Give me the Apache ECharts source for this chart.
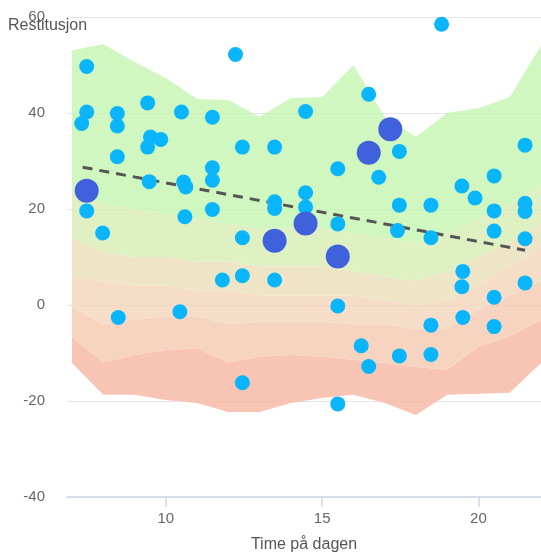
<!DOCTYPE html>
<html>
<head>
    <meta charset="utf-8">
    <title>Restitusjon</title>
    <script src="https://cdn.jsdelivr.net/npm/echarts@6/dist/echarts.min.js"></script>
    <style>
        html, body { margin: 0; padding: 0; background: #fff; }
        #chart { width: 541px; height: 553px; }
    </style>
</head>
<body>
    <div id="chart"></div>
    <script>
        // band boundaries per hour (bottom -> top)
        var hours = [7, 8, 9, 10, 11, 12, 13, 14, 15, 16, 17, 18, 19, 20, 21, 22];
        var bandBottom = [-12.1, -18.7, -18.7, -19.8, -20.4, -22.3, -22.3, -20.4, -19.4, -18.7, -20.4, -22.9, -18.7, -18.5, -18.3, -12.1];
        var bandRed = [-6.7, -12, -10.4, -9.4, -9, -12, -10.8, -10.4, -10.8, -11.4, -12.1, -12.9, -13.5, -8.7, -6.5, -3.1];
        var bandPeach = [-0.5, -4, -3, -2.5, -2.5, -4, -3.5, -3.5, -3.5, -4, -4, -5, -5, -1, 2, 5];
        var bandTan = [6, 5, 4, 4, 3, 3, 2, 2, 2, 2, 1, 0, 1, 4, 8, 12];
        var bandYellow = [14, 11, 10, 10, 9, 9, 8, 8, 8, 7, 6, 5, 7, 10, 13, 17];
        var bandPale = [24, 21, 20, 19, 18, 17, 16, 16, 16, 15, 14, 13, 15, 18, 21, 25];
        var bandTop = [53, 54.4, 50.6, 47.3, 42.9, 42.7, 39.2, 43.1, 43.3, 50, 39.2, 35, 40, 41, 43.3, 54];

        var points = [
            [7.47, 49.7], [7.47, 40.2], [7.31, 37.8], [8.45, 39.9], [8.45, 37.3],
            [9.42, 42.1], [10.5, 40.2], [9.51, 35.0], [9.84, 34.5], [9.42, 32.9],
            [8.45, 30.9], [9.47, 25.7], [10.57, 25.6], [10.64, 24.6], [7.47, 19.6],
            [10.61, 18.4], [7.98, 15.0], [11.49, 39.1], [11.49, 28.6], [11.49, 26.0],
            [11.49, 19.9], [12.23, 52.2], [12.45, 32.9], [12.45, 14.0], [11.81, 5.2],
            [12.45, 6.1], [13.48, 32.9], [13.48, 21.5], [13.48, 20.1], [13.48, 5.2],
            [12.45, -16.2], [8.48, -2.6], [10.45, -1.4], [14.47, 40.3], [14.47, 23.4],
            [14.47, 20.4], [15.5, 28.4], [15.5, 16.9], [15.5, -0.2], [15.5, -20.6],
            [16.49, 43.9], [17.47, 32.0], [16.81, 26.6], [17.47, 20.8], [17.41, 15.5],
            [16.25, -8.5], [16.49, -12.8], [17.47, -10.6], [18.48, 20.8], [18.48, 14.0],
            [18.48, -4.2], [18.48, -10.3], [18.82, 58.5], [19.47, 24.8], [19.89, 22.3],
            [20.5, 26.9], [20.5, 19.6], [20.5, 15.4], [19.5, 7.0], [19.47, 3.8],
            [19.5, -2.6], [20.5, 1.6], [20.5, -4.5], [21.49, 33.3], [21.49, 21.2],
            [21.49, 19.5], [21.49, 13.8], [21.49, 4.6]
        ];
        var bigPoints = [
            [7.47, 23.8], [13.48, 13.4], [14.47, 17.0], [15.5, 10.1], [16.49, 31.7], [17.18, 36.6]
        ];
        var trendLine = [[7.34, 28.7], [21.49, 11.4]];
        var xTicks = [10, 15, 20];

        var bandLevels = [bandBottom, bandRed, bandPeach, bandTan, bandYellow, bandPale, bandTop];
        var bandColors = [
            'rgba(246,181,161,0.8)',
            'rgba(245,201,176,0.8)',
            'rgba(243,213,186,0.8)',
            'rgba(233,223,183,0.8)',
            'rgba(215,236,180,0.8)',
            'rgba(195,245,175,0.8)'
        ];

        var font = 'Liberation Sans, Arial, sans-serif';
        var chart = echarts.init(document.getElementById('chart'));
        var option = {
            animation: false,
            title: {
                text: 'Restitusjon',
                left: 8,
                top: 18,
                padding: 0,
                textStyle: { fontFamily: font, fontSize: 16, fontWeight: 'normal', color: '#555' }
            },
            grid: { left: 67, right: 0, top: 17, bottom: 56, containLabel: false, outerBoundsMode: 'none' },
            xAxis: {
                type: 'value',
                min: 6.84,
                max: 22,
                name: 'Time på dagen',
                nameLocation: 'middle',
                nameGap: 40,
                nameTextStyle: { fontFamily: font, fontSize: 16, color: '#555' },
                axisLine: { show: true, onZero: false, lineStyle: { color: '#ccd6eb', width: 1.5 } },
                axisTick: { show: true, customValues: xTicks, length: 10, lineStyle: { color: '#ccd6eb', width: 1.5 } },
                axisLabel: { customValues: xTicks, margin: 14, fontFamily: font, fontSize: 15, color: '#666' },
                splitLine: { show: false }
            },
            yAxis: {
                type: 'value',
                min: -40,
                max: 60,
                interval: 20,
                axisLine: { show: false },
                axisTick: { show: false },
                axisLabel: { margin: 22, fontFamily: font, fontSize: 15, color: '#666' },
                splitLine: { lineStyle: { color: '#e6e6e6', width: 1 } }
            },
            series: [
                {
                    type: 'custom',
                    silent: true,
                    z: 1,
                    encode: { x: -1, y: -1 },
                    data: bandColors.map(function (c, i) { return [i]; }),
                    renderItem: function (params, api) {
                        var k = api.value(0);
                        var lo = bandLevels[k], hi = bandLevels[k + 1];
                        var pts = [];
                        for (var i = 0; i < hours.length; i++) pts.push(api.coord([hours[i], hi[i]]));
                        for (var j = hours.length - 1; j >= 0; j--) pts.push(api.coord([hours[j], lo[j]]));
                        return {
                            type: 'polygon',
                            shape: { points: pts },
                            style: { fill: bandColors[k], stroke: null }
                        };
                    }
                },
                {
                    type: 'line',
                    z: 2,
                    data: trendLine,
                    symbol: 'none',
                    lineStyle: { color: '#555555', width: 3, type: [10, 7] }
                },
                {
                    type: 'scatter',
                    z: 3,
                    data: points,
                    symbolSize: 15,
                    itemStyle: { color: '#0bb5fb', opacity: 1 }
                },
                {
                    type: 'scatter',
                    z: 4,
                    data: bigPoints,
                    symbolSize: 24,
                    itemStyle: { color: '#4061dc', opacity: 1 }
                }
            ]
        };
        chart.setOption(option);
    </script>
</body>
</html>
